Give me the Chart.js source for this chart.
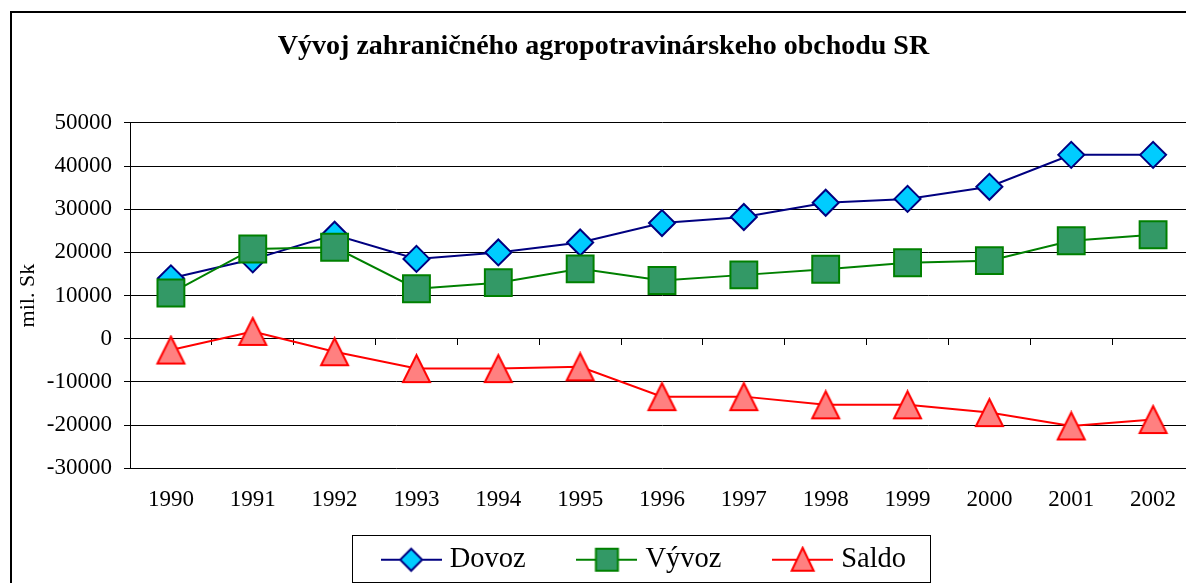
<!DOCTYPE html>
<html>
<head>
<meta charset="utf-8">
<title>Vývoj zahraničného agropotravinárskeho obchodu SR</title>
<script src="https://cdn.jsdelivr.net/npm/chart.js@4/dist/chart.umd.min.js"></script>
<style>
  html, body { margin: 0; padding: 0; overflow: hidden; background: #fff; }
  #wrap { position: relative; width: 1186px; height: 583px; overflow: hidden; }
</style>
</head>
<body>
<div id="wrap"><canvas id="tradeChart" width="1196" height="620"></canvas></div>
<script>
// Data (mil. Sk)
const years = ['1990', '1991', '1992', '1993', '1994', '1995', '1996', '1997', '1998', '1999', '2000', '2001', '2002'];
const dovoz = [14000, 18400, 24100, 18500, 20000, 22300, 26800, 28200, 31500, 32400, 35200, 42600, 42600];
const vyvoz = [10600, 20800, 21200, 11600, 13000, 16200, 13500, 14800, 16100, 17600, 18100, 22700, 24100];
const saldo = [-2600, 1700, -3000, -6900, -6900, -6500, -13400, -13400, -15300, -15300, -17100, -20200, -18700];
const yMin = -30000;
const yMax = 50000;
const yStep = 10000;

const serif = "'Times New Roman', 'Liberation Serif', serif";

// Excel-like triangle, centered on its bounding box
function triangleMarker(size, fill, stroke) {
  const c = document.createElement('canvas');
  c.width = size + 6;
  c.height = size + 4;
  const ctx = c.getContext('2d');
  const cx = c.width / 2;
  const top = 2;
  const bottom = 2 + size;
  ctx.beginPath();
  ctx.moveTo(cx, top);
  ctx.lineTo(cx + size / 2, bottom);
  ctx.lineTo(cx - size / 2, bottom);
  ctx.closePath();
  ctx.fillStyle = fill;
  ctx.fill();
  ctx.lineWidth = 2;
  ctx.strokeStyle = stroke;
  ctx.stroke();
  return c;
}

// Legend icon: a line with the marker in the middle
function legendIcon(line, fill, shape) {
  const c = document.createElement('canvas');
  c.width = 61;
  c.height = 28;
  const ctx = c.getContext('2d');
  ctx.strokeStyle = line;
  ctx.lineWidth = 2;
  ctx.beginPath();
  ctx.moveTo(0, 14);
  ctx.lineTo(61, 14);
  ctx.stroke();
  ctx.beginPath();
  if (shape === 'diamond') {
    ctx.moveTo(30.5, 3); ctx.lineTo(41.5, 14); ctx.lineTo(30.5, 25); ctx.lineTo(19.5, 14);
  } else if (shape === 'square') {
    ctx.rect(19.5, 3, 22, 22);
  } else {
    ctx.moveTo(30.5, 2); ctx.lineTo(41.5, 25); ctx.lineTo(19.5, 25);
  }
  ctx.closePath();
  ctx.fillStyle = fill;
  ctx.fill();
  ctx.stroke();
  return c;
}

const legendIcons = [
  legendIcon('#000080', '#00CCFF', 'diamond'),
  legendIcon('#008000', '#339966', 'square'),
  legendIcon('#FF0000', '#FF8080', 'triangle')
];

// frame of the whole chart, legend box, title/legend placement
const framePlugin = {
  id: 'frame',
  afterLayout(chart) {
    const lg = chart.legend;
    lg.left += 49.5;
    lg.right += 49.5;
    lg.top -= 36;
    lg.bottom -= 36;
    const tb = chart.titleBlock;
    tb.left += 6.5;
    tb.right += 6.5;
  },
  beforeDraw(chart) {
    const ctx = chart.ctx;
    ctx.save();
    ctx.fillStyle = '#fff';
    ctx.fillRect(0, 0, chart.width, chart.height);
    ctx.strokeStyle = '#000';
    ctx.lineWidth = 2;
    ctx.strokeRect(11, 12, chart.width + 50, chart.height + 50);
    ctx.restore();
  },
  afterDraw(chart) {
    const hb = chart.legend.legendHitBoxes;
    if (!hb || !hb.length) return;
    const ctx = chart.ctx;
    const first = hb[0];
    const last = hb[hb.length - 1];
    const mid = first.top + first.height / 2;
    const left = Math.round(first.left - 35) + 0.5;
    const right = Math.round(last.left + last.width + 24) + 0.5;
    const top = Math.round(mid - 25) + 0.5;
    const bottom = Math.round(mid + 22) + 0.5;
    ctx.save();
    ctx.strokeStyle = '#000';
    ctx.lineWidth = 1;
    ctx.strokeRect(left, top, right - left, bottom - top);
    ctx.restore();
  }
};

const ctx = document.getElementById('tradeChart').getContext('2d');
new Chart(ctx, {
  type: 'line',
  data: {
    labels: years,
    datasets: [
      {
        label: 'Dovoz',
        data: dovoz,
        order: 3,
        borderColor: '#000080',
        borderWidth: 2,
        pointStyle: 'rectRot',
        pointRadius: 13,
        pointBackgroundColor: '#00CCFF',
        pointBorderColor: '#000080',
        pointBorderWidth: 2,
        tension: 0
      },
      {
        label: 'Vývoz',
        data: vyvoz,
        order: 2,
        borderColor: '#008000',
        borderWidth: 2,
        pointStyle: 'rect',
        pointRadius: 19,
        pointBackgroundColor: '#339966',
        pointBorderColor: '#008000',
        pointBorderWidth: 2,
        tension: 0
      },
      {
        label: 'Saldo',
        data: saldo,
        order: 1,
        borderColor: '#FF0000',
        borderWidth: 2,
        pointStyle: triangleMarker(27, '#FF8080', '#FF0000'),
        tension: 0
      }
    ]
  },
  options: {
    responsive: false,
    animation: false,
    events: [],
    layout: { autoPadding: false, padding: { left: 0, right: 2, top: 0, bottom: 0 } },
    plugins: {
      title: {
        display: true,
        text: 'Vývoj zahraničného agropotravinárskeho obchodu SR',
        color: '#000',
        font: { family: serif, size: 28, weight: 'bold' },
        padding: { top: 30, bottom: 59.3 }
      },
      legend: {
        position: 'bottom',
        labels: {
          usePointStyle: true,
          pointStyleWidth: 48.5,
          padding: 57,
          color: '#000',
          font: { family: serif, size: 28.5 },
          sort: (a, b) => a.datasetIndex - b.datasetIndex,
          generateLabels(chart) {
            const items = Chart.defaults.plugins.legend.labels.generateLabels(chart);
            items.forEach(it => { it.pointStyle = legendIcons[it.datasetIndex]; });
            return items;
          }
        }
      },
      tooltip: { enabled: false }
    },
    scales: {
      x: {
        offset: true,
        grid: { display: false, drawTicks: false },
        border: { display: false },
        ticks: { color: '#000', font: { family: serif, size: 23 }, padding: 18, maxRotation: 0, autoSkip: false },
        afterFit(scale) {
          scale.height = 56.2;
          scale.paddingLeft = 0;
          scale.paddingRight = 0;
        }
      },
      x2: {
        type: 'category',
        labels: years,
        offset: true,
        position: { y: 0 },
        grid: { offset: true, drawOnChartArea: false, drawTicks: true, tickLength: 6, color: '#000' },
        ticks: { display: false },
        border: { display: false }
      },
      y: {
        min: yMin,
        max: yMax,
        ticks: {
          stepSize: yStep,
          color: '#000',
          font: { family: serif, size: 23 },
          padding: 12,
          callback: v => String(v)
        },
        grid: { color: '#000', tickLength: 6 },
        border: { color: '#000' },
        title: {
          display: true,
          text: 'mil. Sk',
          color: '#000',
          font: { family: serif, size: 22 },
          padding: { top: 15, bottom: 0 }
        },
        afterFit(scale) { scale.width = 130; }
      }
    }
  },
  plugins: [framePlugin]
});
</script>
</body>
</html>
